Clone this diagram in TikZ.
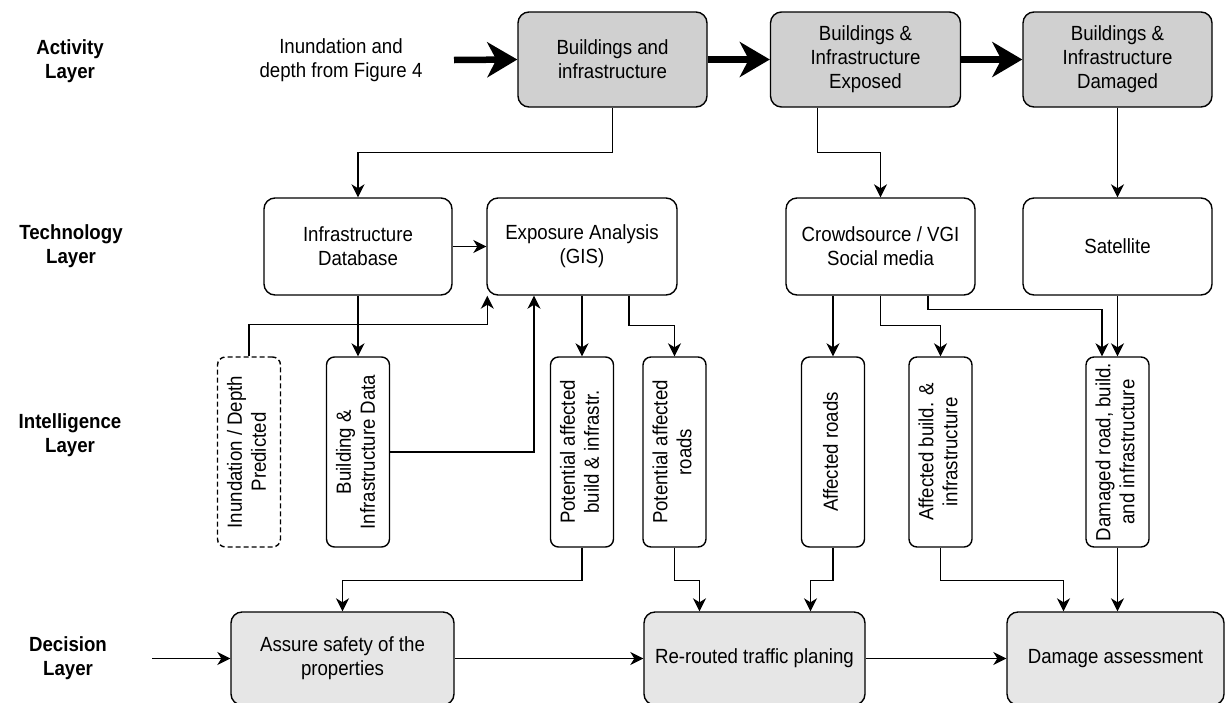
\documentclass[tikz,border=0pt]{standalone}
\usepackage{fontspec}
\usepackage{graphicx}
\setmainfont[FakeStretch=0.91]{Liberation Sans}
\usetikzlibrary{arrows.meta}
\definecolor{actfill}{HTML}{D0D0D0}
\definecolor{decfill}{HTML}{E6E6E6}
% vertical two-line label for the intelligence boxes
\newcommand{\sidetext}[1]{\rotatebox{90}{\begin{tabular}{@{}c@{}}#1\end{tabular}}}

\begin{document}
\begin{tikzpicture}[x=1pt,y=-1pt,
  font=\fontsize{20.5}{24}\selectfont,
  roundbox/.style={draw, line width=1.4pt, rounded corners=11pt, align=center, inner sep=0pt},
  actbox/.style={roundbox, fill=actfill, minimum width=189pt, minimum height=95pt},
  techbox/.style={roundbox, fill=white, minimum width=189pt, minimum height=97pt},
  intbox/.style={roundbox, fill=white, rounded corners=8pt, minimum width=63pt, minimum height=190pt},
  decbox/.style={roundbox, fill=decfill, minimum height=93pt},
  layer/.style={font=\fontsize{20.5}{24}\selectfont\bfseries, align=center},
  link/.style={draw, line width=1.4pt, -{Stealth[length=13pt,width=13pt,inset=4pt]}},
  flow/.style={draw, line width=6.5pt, -{Stealth[length=30pt,width=35pt,inset=9pt]}}
]
\useasboundingbox (0,0) rectangle (1225,702);

% layer titles
\node[layer] (lact)  at (70,61)  {Activity\\Layer};
\node[layer] (ltech) at (71,246) {Technology\\Layer};
\node[layer] (lint)  at (70,435) {Intelligence\\Layer};
\node[layer] (ldec)  at (68,658) {Decision\\Layer};

% activity layer
\node[align=center] (src) at (341,60) {Inundation and\\depth from Figure 4};
\coordinate (srcend) at (454,60);
\node[actbox] (b1) at (612.5,59.5) {Buildings and\\infrastructure};
\node[actbox, minimum width=190pt] (b2) at (865.5,59.5) {Buildings \&\\Infrastructure\\Exposed};
\node[actbox] (b3) at (1117.5,59.5) {Buildings \&\\Infrastructure\\Damaged};

% technology layer
\node[techbox, minimum width=188pt] (t1) at (358,246.5) {Infrastructure\\Database};
\node[techbox, minimum width=190pt] (t2) at (582,246.5) {Exposure Analysis\\(GIS)};
\node[techbox] (t3) at (880.5,246.5) {Crowdsource / VGI\\Social media};
\node[techbox] (t4) at (1117.5,246.5) {Satellite};

% intelligence layer
\node[intbox, dashed, dash pattern=on 5pt off 3pt] (i1) at (249,452) {\sidetext{Inundation / Depth\\Predicted}};
\node[intbox] (i2) at (358,452) {\sidetext{Building \&\\Infrastructure Data}};
\node[intbox] (i3) at (582,452) {\sidetext{Potential affected\\build \& infrastr.}};
\node[intbox] (i4) at (674.5,452) {\sidetext{Potential affected\\roads}};
\node[intbox] (i5) at (833,452) {\sidetext{Affected roads}};
\node[intbox] (i6) at (940.5,452) {\sidetext{Affected build. \&\\infrastructure}};
\node[intbox] (i7) at (1117.5,452) {\sidetext{Damaged road, build.\\and infrastructure}};

% decision layer
\coordinate (decin) at (152,658.5);
\node[decbox, minimum width=223pt] (d1) at (342.5,658.5) {Assure safety of the\\properties};
\node[decbox, minimum width=221pt] (d2) at (754.5,658.5) {Re-routed traffic planing};
\node[decbox, minimum width=217pt] (d3) at (1115.5,658.5) {Damage assessment};

% main activity flow
\draw[flow] (srcend) -- (b1.west);
\draw[flow] (b1.east) -- (b2.west);
\draw[flow] (b2.east) -- (b3.west);

% activity -> technology
\draw[link] (b1.south) -- ++(0,45) -| (t1.north);
\draw[link] ([xshift=-48pt]b2.south) -- ++(0,45) -| (t3.north);
\draw[link] (b3.south) -- (t4.north);

% technology <-> intelligence
\draw[link] (t1.east) -- (t2.west);
\draw[link] (t1.south) -- (i2.north);
\draw[link] (i1.north) -- ++(0,-32) -| ([xshift=1pt]t2.south west);
\draw[link] (i2.east) -| ([xshift=-48pt]t2.south);
\draw[link] (t2.south) -- (i3.north);
\draw[link] ([xshift=47pt]t2.south) -- ++(0,30) -| (i4.north);
\draw[link] ([xshift=-47.5pt]t3.south) -- (i5.north);
\draw[link] (t3.south) -- ++(0,30) -| (i6.north);
\draw[link] ([xshift=47.5pt]t3.south) -- ++(0,14) -| ([xshift=-15.5pt]i7.north);
\draw[link] (t4.south) -- (i7.north);

% intelligence -> decision
\draw[link] (i3.south) -- ++(0,33) -| (d1.north);
\draw[link] (i4.south) -- ++(0,33) -| ([xshift=-55pt]d2.north);
\draw[link] (i5.south) -- ++(0,33) -| ([xshift=56pt]d2.north);
\draw[link] (i6.south) -- ++(0,33) -| ([xshift=-52pt]d3.north);
\draw[link] (i7.south) -- (i7.south |- d3.north);

% decision flow
\draw[link] (decin) -- (d1.west);
\draw[link] (d1.east) -- (d2.west);
\draw[link] (d2.east) -- (d3.west);
\end{tikzpicture}
\end{document}
